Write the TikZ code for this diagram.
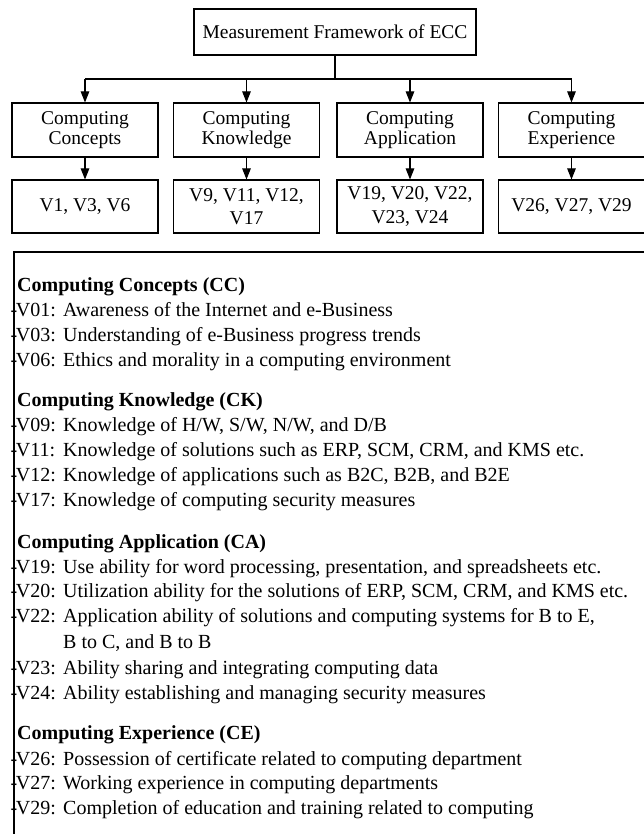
\documentclass[tikz,border=0pt]{standalone}
\usepackage{fontspec}
\setmainfont{Liberation Serif}
\usetikzlibrary{arrows.meta}
\newcommand\lab[1]{\makebox[52.5pt][l]{-\kern-1.5pt #1}}
\tikzset{
  box/.style={draw=black, line width=1.1pt, inner sep=0pt, align=center,
    font=\fontsize{19.5}{19.5}\selectfont},
  vbox/.style={box, minimum width=146pt, minimum height=53pt,
    font=\fontsize{19.5}{23.5}\selectfont},
  cbox/.style={box, minimum width=146pt, minimum height=54pt},
  arr/.style={line width=1.1pt, -{Triangle[length=11pt,width=8.5pt]}},
  conn/.style={line width=1.3pt},
  item/.style={anchor=base west, inner sep=0pt, font=\fontsize{20}{24}\selectfont},
  ttl/.style={anchor=base west, inner sep=0pt, font=\fontsize{20}{24}\selectfont\bfseries},
}
\begin{document}
\begin{tikzpicture}[x=1pt,y=-1pt]
\useasboundingbox (0,0) rectangle (644,834);
\clip (0,0) rectangle (644,834);
\fill[white] (0,0) rectangle (644,834);

% top box
\node[box, minimum width=282pt, minimum height=46pt] (top) at (335,32) {Measurement Framework of ECC};

% level 2
\node[cbox] (cc) at (85,130) {Computing\\Concepts};
\node[cbox] (ck) at (246.5,130) {Computing\\Knowledge};
\node[cbox] (ca) at (410,130) {Computing\\Application};
\node[cbox] (ce) at (571.5,130) {Computing\\Experience};

% level 3
\node[vbox] (vcc) at (85,206.5) {V1, V3, V6};
\node[vbox] (vck) at (246.5,206.5) {V9, V11, V12,\\V17};
\node[vbox] (vca) at (410,206.5) {V19, V20, V22,\\V23, V24};
\node[vbox] (vce) at (571.5,206.5) {V26, V27, V29};

% connectors
\coordinate (j) at (335,79);
\draw[line width=1.8pt] (top.south) -- (j);
\draw[conn] (cc.north |- j) -- (ce.north |- j);
\foreach \n in {cc,ck,ca,ce}{
  \draw[arr] (\n.north |- j) -- (\n.north);
}
\draw[arr] (cc.south) -- (vcc.north);
\draw[arr] (ck.south) -- (vck.north);
\draw[arr] (ca.south) -- (vca.north);
\draw[arr] (ce.south) -- (vce.north);

% legend frame
\draw[line width=1.2pt] (14,252) rectangle (660,850);

% legend text
\node[ttl] (tcc) at (17,291) {Computing Concepts (CC)};
\node[item] (v01) at (10.5,316) {\lab{V01:}Awareness of the Internet and e-Business};
\node[item] (v03) at (10.5,341) {\lab{V03:}Understanding of e-Business progress trends};
\node[item] (v06) at (10.5,366) {\lab{V06:}Ethics and morality in a computing environment};

\node[ttl] (tck) at (17,406) {Computing Knowledge (CK)};
\node[item] (v09) at (10.5,431) {\lab{V09:}Knowledge of H/W, S/W, N/W, and D/B};
\node[item] (v11) at (10.5,456) {\lab{V11:}Knowledge of solutions such as ERP, SCM, CRM, and KMS etc.};
\node[item] (v12) at (10.5,481) {\lab{V12:}Knowledge of applications such as B2C, B2B, and B2E};
\node[item] (v17) at (10.5,506) {\lab{V17:}Knowledge of computing security measures};

\node[ttl] (tca) at (17,548) {Computing Application (CA)};
\node[item] (v19) at (10.5,573) {\lab{V19:}Use ability for word processing, presentation, and spreadsheets etc.};
\node[item] (v20) at (10.5,597) {\lab{V20:}Utilization ability for the solutions of ERP, SCM, CRM, and KMS etc.};
\node[item] (v22) at (10.5,622) {\lab{V22:}Application ability of solutions and computing systems for B to E,};
\node[item] (v22b) at (63,648) {B to C, and B to B};
\node[item] (v23) at (10.5,674) {\lab{V23:}Ability sharing and integrating computing data};
\node[item] (v24) at (10.5,699) {\lab{V24:}Ability establishing and managing security measures};

\node[ttl] (tce) at (17,739) {Computing Experience (CE)};
\node[item] (v26) at (10.5,765) {\lab{V26:}Possession of certificate related to computing department};
\node[item] (v27) at (10.5,789) {\lab{V27:}Working experience in computing departments};
\node[item] (v29) at (10.5,814) {\lab{V29:}Completion of education and training related to computing};
\end{tikzpicture}
\end{document}
